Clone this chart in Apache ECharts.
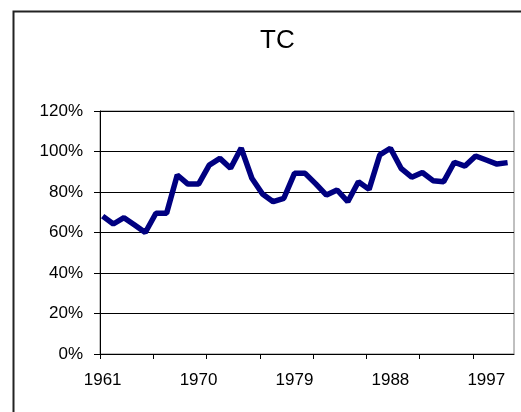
<!DOCTYPE html>
<html>
<head>
<meta charset="utf-8">
<title>TC</title>
<script src="https://cdn.jsdelivr.net/npm/echarts@6/dist/echarts.min.js"></script>
<style>
  html, body { margin: 0; padding: 0; background: #fff; }
  #chart { width: 521px; height: 412px; }
</style>
</head>
<body>
<div id="chart"></div>
<script>
// years on the x axis
var years = [1961, 1962, 1963, 1964, 1965, 1966, 1967, 1968, 1969, 1970,
             1971, 1972, 1973, 1974, 1975, 1976, 1977, 1978, 1979, 1980,
             1981, 1982, 1983, 1984, 1985, 1986, 1987, 1988, 1989, 1990,
             1991, 1992, 1993, 1994, 1995, 1996, 1997, 1998, 1999];
// TC in percent
var tcValues = [68.1, 64.2, 67.3, 63.7, 60.0, 69.5, 69.5, 88.4, 83.9, 83.9,
                93.3, 96.6, 91.7, 101.7, 86.8, 79.0, 75.2, 76.9, 89.2, 89.2,
                84.0, 78.5, 81.0, 75.2, 85.1, 81.3, 98.3, 101.6, 91.7, 87.3,
                89.6, 85.6, 85.1, 94.7, 92.8, 97.8, 95.8, 93.8, 94.5];
// x axis labels and tick marks
var labelYears = [1961, 1970, 1979, 1988, 1997];
var tickYears = [1961, 1966, 1971, 1976, 1981, 1986, 1991, 1996];

var points = [];
for (var i = 0; i < years.length; i++) {
  points.push([years[i], tcValues[i]]);
}

var myChart = echarts.init(document.getElementById('chart'));
var font = 'Liberation Sans, Arial, sans-serif';
var option = {
  animation: false,
  title: {
    text: 'TC',
    left: 255,
    top: 23,
    textStyle: { fontFamily: font, fontSize: 26, fontWeight: 'normal', color: '#000' }
  },
  graphic: [{
    type: 'rect',
    left: 11,
    top: 9,
    shape: { width: 600, height: 500 },
    style: { fill: 'none', stroke: '#222', lineWidth: 2 },
    silent: true
  }],
  grid: {
    left: 100,
    right: 7,
    top: 111,
    bottom: 58,
    show: true,
    borderColor: '#808080',
    borderWidth: 1
  },
  xAxis: {
    type: 'value',
    min: 1960.75,
    max: 1999.6,
    axisLine: { show: true, onZero: false, lineStyle: { color: '#000', width: 1 } },
    axisTick: {
      show: true,
      length: 5,
      // ticks sit a quarter year before the year, where the original draws them
      customValues: tickYears.map(function (y) { return y - 0.25; }),
      lineStyle: { color: '#000' }
    },
    axisLabel: {
      customValues: labelYears,
      formatter: function (v) { return String(v); },
      margin: 18,
      fontFamily: font,
      fontSize: 17,
      color: '#000'
    },
    splitLine: { show: false }
  },
  yAxis: {
    type: 'value',
    min: 0,
    max: 120,
    interval: 20,
    axisLine: { show: true, lineStyle: { color: '#000', width: 1 } },
    axisTick: { show: true, length: 6, lineStyle: { color: '#000' } },
    axisLabel: {
      formatter: '{value}%',
      margin: 17,
      fontFamily: font,
      fontSize: 17,
      color: '#000'
    },
    splitLine: { show: true, lineStyle: { color: '#000', width: 1 } }
  },
  series: [{
    name: 'TC',
    type: 'line',
    data: points,
    showSymbol: false,
    lineStyle: { color: '#000080', width: 5.5 },
    itemStyle: { color: '#000080' }
  }]
};
myChart.setOption(option);
</script>
</body>
</html>
